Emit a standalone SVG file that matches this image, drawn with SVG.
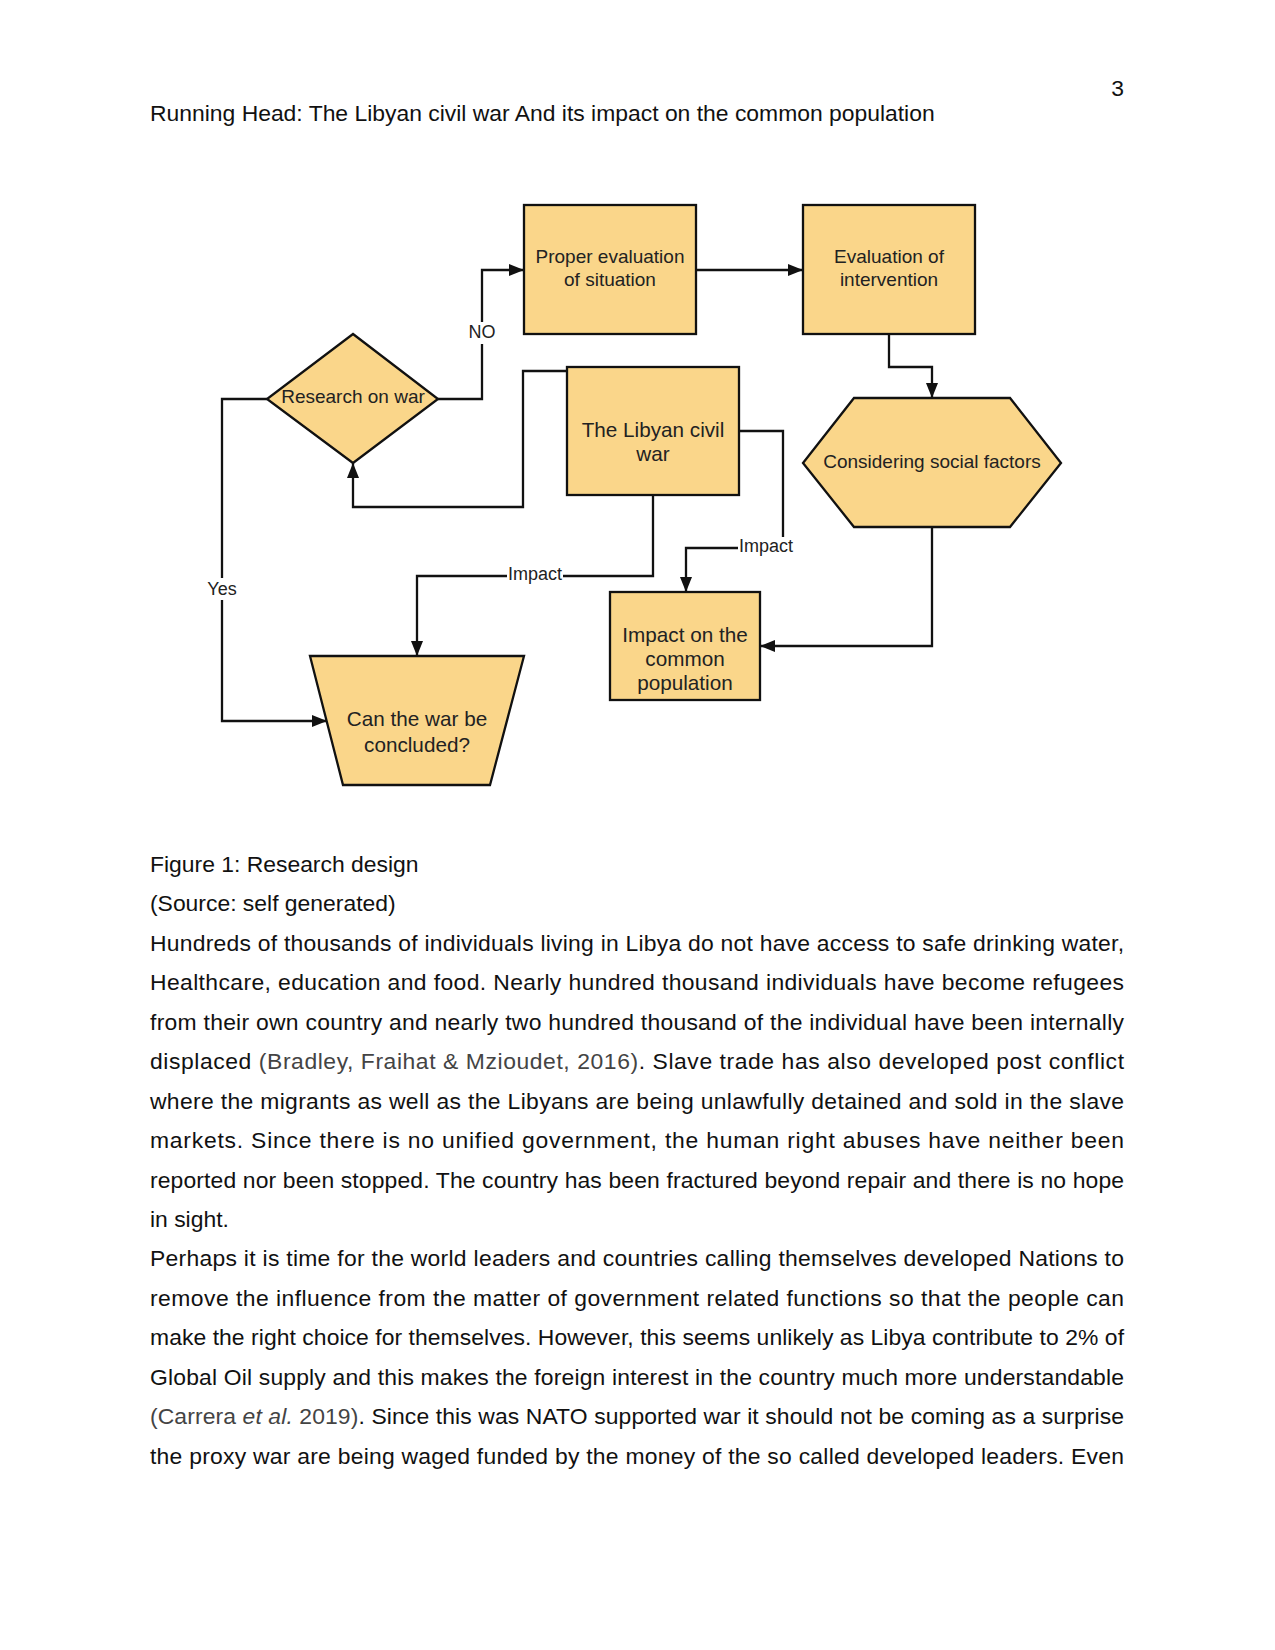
<svg xmlns="http://www.w3.org/2000/svg" width="1275" height="1650" viewBox="0 0 1275 1650">
<defs>
<style>
.page{font-family:"Liberation Sans",Arial,sans-serif;font-size:22.9px;fill:#111}
.cite{fill:#444}
.node{fill:#FAD68A;stroke:#111;stroke-width:2.3}
.nt{font-family:"Liberation Sans",Arial,sans-serif;fill:#222;text-anchor:middle}
.s19{font-size:19px}
.s21{font-size:20.7px}
.conn{fill:none;stroke:#111;stroke-width:2.3}
.lbl{font-family:"Liberation Sans",Arial,sans-serif;font-size:18px;fill:#222;text-anchor:middle}
.lblbg{fill:#fff}
</style>
<marker id="arr" viewBox="0 0 15 12" refX="15" refY="6" markerWidth="15" markerHeight="12" markerUnits="userSpaceOnUse" orient="auto">
<path d="M0,0 L15,6 L0,12 Z" fill="#111"/>
</marker>
</defs>
<rect width="1275" height="1650" fill="#fff"/>

<text class="page" x="1124" y="96" text-anchor="end">3</text>
<text class="page" x="150" y="121">Running Head: The Libyan civil war And its impact on the common population</text>

<g id="connectors">
<path class="conn" d="M438,399 H482 V270 H524" marker-end="url(#arr)"/>
<path class="conn" d="M696,270 H803" marker-end="url(#arr)"/>
<path class="conn" d="M889,334 V367 H932 V398" marker-end="url(#arr)"/>
<path class="conn" d="M567,371 H523 V507 H353 V463" marker-end="url(#arr)"/>
<path class="conn" d="M653,495 V576 H417 V656" marker-end="url(#arr)"/>
<path class="conn" d="M739,431 H783 V548 H686 V592" marker-end="url(#arr)"/>
<path class="conn" d="M932,527 V646 H760" marker-end="url(#arr)"/>
<path class="conn" d="M267,399 H222 V721 H327" marker-end="url(#arr)"/>
<rect class="lblbg" x="469" y="322" width="26" height="22"/>
<text class="lbl" x="482" y="338">NO</text>
<rect class="lblbg" x="205" y="578" width="34" height="22"/>
<text class="lbl" x="222" y="595">Yes</text>
<rect class="lblbg" x="507" y="565" width="56" height="20"/>
<text class="lbl" x="535" y="580">Impact</text>
<rect class="lblbg" x="738" y="537" width="57" height="20"/>
<text class="lbl" x="766" y="552">Impact</text>
</g>

<g id="proper-evaluation">
<rect class="node" x="524" y="205" width="172" height="129"/>
<text class="nt s19" x="610" y="263">Proper evaluation</text>
<text class="nt s19" x="610" y="286">of situation</text>
</g>

<g id="evaluation-intervention">
<rect class="node" x="803" y="205" width="172" height="129"/>
<text class="nt s19" x="889" y="263">Evaluation of</text>
<text class="nt s19" x="889" y="286">intervention</text>
</g>

<g id="research-on-war">
<polygon class="node" points="353,334 438,399 353,463 267,399"/>
<text class="nt s19" x="353" y="403">Research on war</text>
</g>

<g id="libyan-civil-war">
<rect class="node" x="567" y="367" width="172" height="128"/>
<text class="nt s21" x="653" y="437">The Libyan civil</text>
<text class="nt s21" x="653" y="461">war</text>
</g>

<g id="social-factors">
<polygon class="node" points="854,398 1010,398 1061,463 1010,527 854,527 803,463"/>
<text class="nt s19" x="932" y="468">Considering social factors</text>
</g>

<g id="impact-population">
<rect class="node" x="610" y="592" width="150" height="108"/>
<text class="nt s21" x="685" y="642">Impact on the</text>
<text class="nt s21" x="685" y="666">common</text>
<text class="nt s21" x="685" y="690">population</text>
</g>

<g id="war-concluded">
<polygon class="node" points="310,656 524,656 490,785 343,785"/>
<text class="nt s21" x="417" y="726">Can the war be</text>
<text class="nt s21" x="417" y="752">concluded?</text>
</g>

<g id="body-text">
<text class="page" x="150" y="872">Figure 1: Research design</text>
<text class="page" x="150" y="911.4">(Source: self generated)</text>
<text class="page" x="150" y="950.8" textLength="974" lengthAdjust="spacing">Hundreds of thousands of individuals living in Libya do not have access to safe drinking water,</text>
<text class="page" x="150" y="990.3" textLength="974" lengthAdjust="spacing">Healthcare, education and food. Nearly hundred thousand individuals have become refugees</text>
<text class="page" x="150" y="1029.7" textLength="974" lengthAdjust="spacing">from their own country and nearly two hundred thousand of the individual have been internally</text>
<text class="page" x="150" y="1069.2" textLength="974" lengthAdjust="spacing">displaced <tspan class="cite">(Bradley, Fraihat &amp; Mzioudet, 2016)</tspan>. Slave trade has also developed post conflict</text>
<text class="page" x="150" y="1108.6" textLength="974" lengthAdjust="spacing">where the migrants as well as the Libyans are being unlawfully detained and sold in the slave</text>
<text class="page" x="150" y="1148.1" textLength="974" lengthAdjust="spacing">markets. Since there is no unified government, the human right abuses have neither been</text>
<text class="page" x="150" y="1187.5" textLength="974" lengthAdjust="spacing">reported nor been stopped. The country has been fractured beyond repair and there is no hope</text>
<text class="page" x="150" y="1227">in sight.</text>
<text class="page" x="150" y="1266.4" textLength="974" lengthAdjust="spacing">Perhaps it is time for the world leaders and countries calling themselves developed Nations to</text>
<text class="page" x="150" y="1305.9" textLength="974" lengthAdjust="spacing">remove the influence from the matter of government related functions so that the people can</text>
<text class="page" x="150" y="1345.3" textLength="974" lengthAdjust="spacing">make the right choice for themselves. However, this seems unlikely as Libya contribute to 2% of</text>
<text class="page" x="150" y="1384.8" textLength="974" lengthAdjust="spacing">Global Oil supply and this makes the foreign interest in the country much more understandable</text>
<text class="page" x="150" y="1424.2" textLength="974" lengthAdjust="spacing"><tspan class="cite">(Carrera <tspan font-style="italic">et al.</tspan> 2019)</tspan>. Since this was NATO supported war it should not be coming as a surprise</text>
<text class="page" x="150" y="1463.7" textLength="974" lengthAdjust="spacing">the proxy war are being waged funded by the money of the so called developed leaders. Even</text>
</g>
</svg>
